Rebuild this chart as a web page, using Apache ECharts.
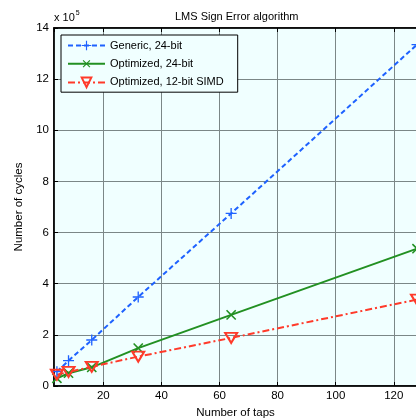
<!DOCTYPE html>
<html>
<head>
<meta charset="utf-8">
<script src="https://cdn.jsdelivr.net/npm/echarts@6/dist/echarts.min.js"></script>
<style>
  html, body { margin: 0; padding: 0; background: #fff; }
  #chart { width: 416px; height: 418px; }
</style>
</head>
<body>
<div id="chart"></div>
<script>
// number of taps
var taps = [4, 8, 16, 32, 64, 128];
// cycles for each implementation
var generic24 = [56000, 99000, 180000, 348000, 675000, 1335000];
var optimized24 = [30000, 50000, 73000, 148000, 278000, 537000];
var simd12 = [44000, 55000, 75000, 115000, 188000, 338000];
var yTicks = [0, 2, 4, 6, 8, 10, 12, 14];

var FONT = 'Liberation Sans, Arial, sans-serif';
var BLUE = '#1e62ff', GREEN = '#229022', RED = '#ff3a2a';

function pairs(ys) {
    return taps.map(function (t, i) { return [t, ys[i]]; });
}

var plusPath = 'path://M-0.6,-5L0.6,-5L0.6,-0.6L5,-0.6L5,0.6L0.6,0.6L0.6,5L-0.6,5L-0.6,0.6L-5,0.6L-5,-0.6L-0.6,-0.6Z';

var chart = echarts.init(document.getElementById('chart'));
chart.setOption({
    animation: false,
    backgroundColor: '#fff',
    textStyle: { fontFamily: FONT },
    title: {
        text: 'LMS Sign Error algorithm',
        left: 170, top: 6,
        textStyle: { fontSize: 11, fontWeight: 'normal', color: '#000', fontFamily: FONT }
    },
    graphic: [{
        type: 'text',
        left: 54, top: 10,
        style: {
            text: '{a|x 10}{b|5}',
            rich: {
                a: { fontSize: 11, fontFamily: FONT, fill: '#000', verticalAlign: 'bottom' },
                b: { fontSize: 7, fontFamily: FONT, fill: '#000', verticalAlign: 'top', padding: [0, 0, 6, 1] }
            }
        }
    }],
    legend: {
        left: 61, top: 35,
        orient: 'vertical',
        itemWidth: 37, itemHeight: 12, itemGap: 6,
        padding: [5, 14, 4, 6],
        backgroundColor: '#f0ffff',
        borderColor: '#000', borderWidth: 1,
        textStyle: { fontSize: 11, color: '#000', fontFamily: FONT }
    },
    grid: {
        left: 54, top: 28, right: -1, bottom: 32,
        outerBoundsMode: 'none',
        containLabel: false,
        show: true, backgroundColor: '#f0ffff', borderColor: '#000', borderWidth: 1.5
    },
    xAxis: [{
        type: 'value',
        min: 3, max: 128,
        splitNumber: 6, minInterval: 20, maxInterval: 20,
        name: 'Number of taps',
        nameLocation: 'middle', nameGap: 19,
        nameTextStyle: { fontSize: 11.5, color: '#000' },
        axisLine: { lineStyle: { color: '#000', width: 1.5 } },
        axisTick: { inside: true, length: 4, lineStyle: { color: '#000' } },
        axisLabel: {
            margin: 4, fontSize: 11.5, color: '#000',
            showMinLabel: false, showMaxLabel: false,
            formatter: function (v) { return v % 20 === 0 ? v : ''; }
        },
        splitLine: { show: true, lineStyle: { color: '#7b8787', width: 1 } }
    }, {
        type: 'value',
        position: 'top',
        min: 3, max: 128,
        splitNumber: 6, minInterval: 20, maxInterval: 20,
        axisLine: { show: true, lineStyle: { color: '#000', width: 1.5 } },
        axisTick: { inside: true, length: 4, lineStyle: { color: '#000' } },
        axisLabel: { show: false },
        splitLine: { show: false }
    }],
    yAxis: {
        type: 'value',
        min: 0, max: 1400000, interval: 200000,
        name: 'Number of cycles',
        nameLocation: 'middle', nameGap: 22,
        nameTextStyle: { fontSize: 11.5, color: '#000' },
        axisLine: { show: true, lineStyle: { color: '#000', width: 1.5 } },
        axisTick: { inside: true, length: 4, lineStyle: { color: '#000' } },
        axisLabel: {
            margin: 5, fontSize: 11.5, color: '#000',
            formatter: function (v) { return yTicks.indexOf(v / 100000) >= 0 ? v / 100000 : ''; }
        },
        splitLine: { show: true, lineStyle: { color: '#7b8787', width: 1 } }
    },
    series: [{
        name: 'Generic, 24-bit',
        type: 'line',
        data: pairs(generic24),
        symbol: plusPath, symbolSize: 11,
        lineStyle: { color: BLUE, width: 2, type: [5, 3] },
        itemStyle: { color: BLUE }
    }, {
        name: 'Optimized, 24-bit',
        type: 'line',
        data: pairs(optimized24),
        symbol: plusPath, symbolSize: 13, symbolRotate: 45,
        lineStyle: { color: GREEN, width: 2 },
        itemStyle: { color: GREEN }
    }, {
        name: 'Optimized, 12-bit SIMD',
        type: 'line',
        data: pairs(simd12),
        symbol: 'triangle', symbolSize: [12, 10], symbolRotate: 180,
        lineStyle: { color: RED, width: 2, type: [7, 3, 2, 3] },
        itemStyle: { color: 'rgba(240,255,255,0)', borderColor: RED, borderWidth: 2 }
    }]
});
</script>
</body>
</html>
